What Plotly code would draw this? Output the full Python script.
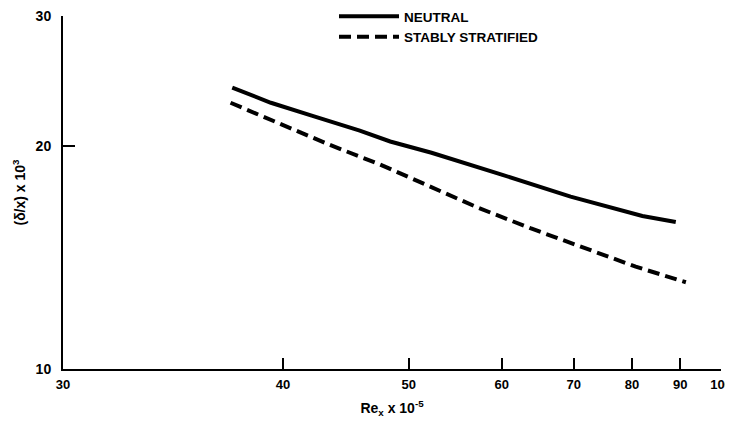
import math
import plotly.graph_objects as go

# ---- data (Re_x x 10^-5 , (delta/x) x 10^3) ----
neutral_x = [36.8, 39.2, 42.0, 45.7, 48.3, 52.2, 60.1, 69.5, 82.0, 89.0]
neutral_y = [24.0, 22.9, 22.0, 21.0, 20.3, 19.6, 18.3, 17.1, 16.1, 15.8]

stable_x = [36.7, 39.7, 43.3, 47.4, 52.2, 57.3, 63.7, 71.7, 80.7, 91.3]
stable_y = [22.9, 21.5, 20.1, 18.9, 17.6, 16.5, 15.5, 14.55, 13.75, 13.1]

x_ticks = [40, 50, 60, 70, 80, 90, 100]
x_min_label = 30
y_ticks = [10, 20, 30]

# The printed abscissa is a compressed (x^-1/2) scale; map through it.
def xscale(v):
    return -(v ** -0.5)

x_lo = -0.1873  # left end of the printed axis (labelled 30)
x_hi = xscale(100) + 1e-6

FONT = "Liberation Sans"
# page body has an 8px margin on every side; keep the page inside the window
W, H = 725, 410

fig = go.Figure()
fig.add_trace(go.Scatter(
    x=[xscale(v) for v in neutral_x], y=neutral_y, mode="lines",
    name="NEUTRAL", line=dict(color="black", width=4)))
fig.add_trace(go.Scatter(
    x=[xscale(v) for v in stable_x], y=stable_y, mode="lines",
    name="STABLY STRATIFIED", line=dict(color="black", width=4, dash="12px,6px")))

fig.update_layout(
    width=W, height=H,
    margin=dict(l=55, r=12, t=8, b=49, autoexpand=False),
    paper_bgcolor="white", plot_bgcolor="white",
    font=dict(family=FONT, color="black", size=13),
    showlegend=True,
    legend=dict(x=(334 - 63) / 658, y=1.0425, xref="paper", yref="paper",
                xanchor="left", yanchor="top",
                font=dict(family=FONT, size=13.5, weight="bold"),
                bgcolor="rgba(0,0,0,0)", itemwidth=60,
                tracegroupgap=0, itemclick=False),
)

fig.update_xaxes(
    type="linear", range=[x_lo, x_hi],
    tickmode="array",
    tickvals=[x_lo] + [xscale(v) for v in x_ticks],
    ticktext=[str(x_min_label)] + [str(v) for v in x_ticks],
    ticks="inside", ticklen=11, tickwidth=1.5, tickcolor="black",
    showline=True, linecolor="black", linewidth=2,
    showgrid=False, zeroline=False, ticklabelstandoff=2,
    ticklabeloverflow="allow",
    tickfont=dict(family=FONT, size=13, weight="bold"),
    title=dict(text="Re<sub>x</sub> x 10<sup>-5</sup>",
               font=dict(family=FONT, size=14, weight="bold"), standoff=13),
)
fig.update_yaxes(
    type="log", range=[1, math.log10(30) + 1e-6],
    tickmode="array", tickvals=y_ticks, ticktext=[str(v) for v in y_ticks],
    ticks="inside", ticklen=12, tickwidth=2, tickcolor="black",
    showline=True, linecolor="black", linewidth=2,
    showgrid=False, zeroline=False, ticklabelstandoff=7,
    ticklabeloverflow="allow",
    tickfont=dict(family=FONT, size=14, weight="bold"),
    title=dict(text="(δ/x) x 10<sup>3</sup>",
               font=dict(family=FONT, size=14, weight="bold"), standoff=7),
)

fig.write_html("out.html")
